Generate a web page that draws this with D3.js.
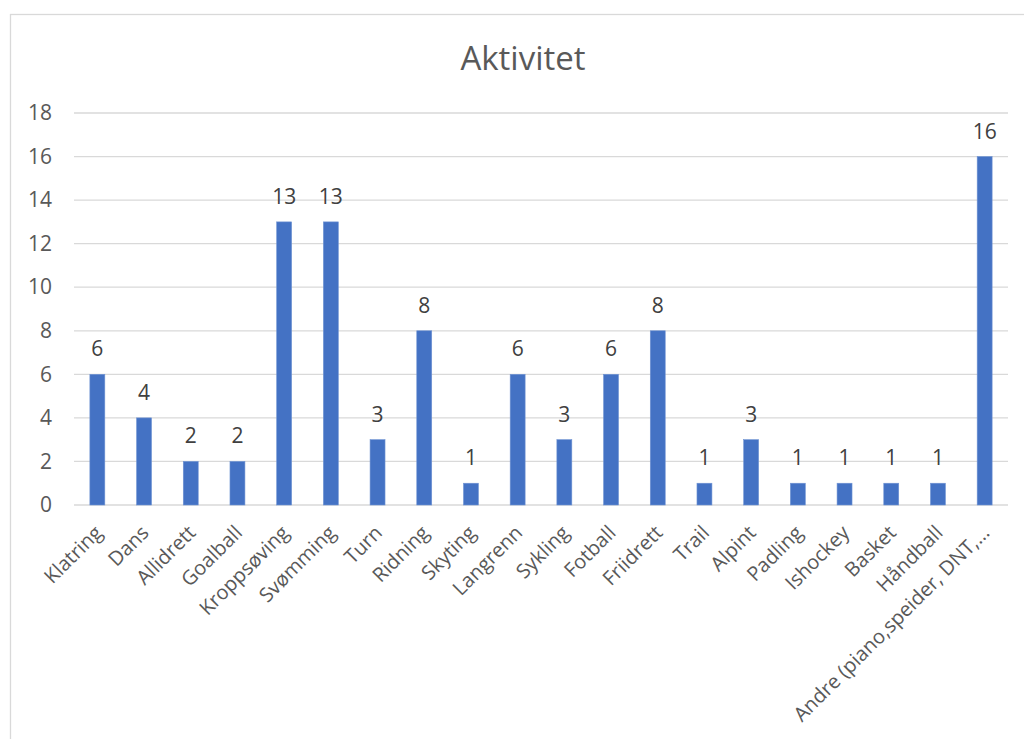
<!DOCTYPE html>
<html>
<head>
<meta charset="utf-8">
<script src="https://cdn.jsdelivr.net/npm/d3@7"></script>
<style>
  html, body { margin: 0; padding: 0; background: #fff; }
  svg { display: block; }
  text { font-family: "Open Sans", "Noto Sans", sans-serif; }
</style>
</head>
<body>
<svg id="chart" width="1024" height="739"></svg>
<script>
const title = "Aktivitet";
const categories = ["Klatring", "Dans", "Allidrett", "Goalball", "Kroppsøving", "Svømming", "Turn", "Ridning", "Skyting", "Langrenn", "Sykling", "Fotball", "Friidrett", "Trail", "Alpint", "Padling", "Ishockey", "Basket", "Håndball", "Andre (piano,speider, DNT,…"];
const values = [6, 4, 2, 2, 13, 13, 3, 8, 1, 6, 3, 6, 8, 1, 3, 1, 1, 1, 1, 16];
const yTicks = [0, 2, 4, 6, 8, 10, 12, 14, 16, 18];

const svg = d3.select("#chart");
const W = 1024, H = 739;
svg.append("rect").attr("width", W).attr("height", H).attr("fill", "#fff");
svg.append("rect").attr("x", 10.5).attr("y", 14.5).attr("width", 1040).attr("height", 760)
  .attr("fill", "#fff").attr("stroke", "#d9d9d9").attr("stroke-width", 1.3);

const x = d3.scaleBand().domain(categories).range([74, 1008]).paddingInner(0.68).paddingOuter(0.34);
const y = d3.scaleLinear().domain([0, 18]).range([505, 113]);

// gridlines
svg.append("g").selectAll("line").data(yTicks).join("line")
  .attr("x1", 74).attr("x2", 1008)
  .attr("y1", d => y(d)).attr("y2", d => y(d))
  .attr("stroke", "#d9d9d9").attr("stroke-width", 1.3);

// y axis labels
const yAxis = d3.axisLeft(y).tickValues(yTicks).tickSize(0).tickPadding(0);
const gy = svg.append("g").attr("transform", "translate(52,0)").call(yAxis);
gy.select(".domain").remove();
gy.selectAll("text").attr("font-size", 21).attr("fill", "#595959")
  .attr("font-family", "Open Sans");

// bars
svg.append("g").selectAll("rect").data(values).join("rect")
  .attr("x", (d, i) => x(categories[i]))
  .attr("width", x.bandwidth())
  .attr("y", d => y(d))
  .attr("height", d => y(0) - y(d))
  .attr("fill", "#4472C4")
  .attr("stroke", "#6f93d3").attr("stroke-width", 0.6);

// data labels
svg.append("g").selectAll("text").data(values).join("text")
  .attr("x", (d, i) => x(categories[i]) + x.bandwidth() / 2)
  .attr("y", d => y(d) - 18)
  .attr("text-anchor", "middle")
  .attr("font-size", 21).attr("fill", "#404040")
  .text(d => d);

// x labels
const xAxis = d3.axisBottom(x).tickSize(0).tickPadding(0);
const gx = svg.append("g").attr("transform", "translate(0,505)").call(xAxis);
gx.select(".domain").remove();
gx.selectAll("text")
  .attr("font-size", 20).attr("fill", "#595959").attr("font-family", "Open Sans")
  .attr("text-anchor", "end")
  .attr("dy", null).attr("y", null)
  .attr("transform", "translate(6,29) rotate(-45)");

// title
svg.append("text").attr("x", 523).attr("y", 70).attr("text-anchor", "middle")
  .attr("font-size", 33).attr("fill", "#595959").text(title);
</script>
</body>
</html>
